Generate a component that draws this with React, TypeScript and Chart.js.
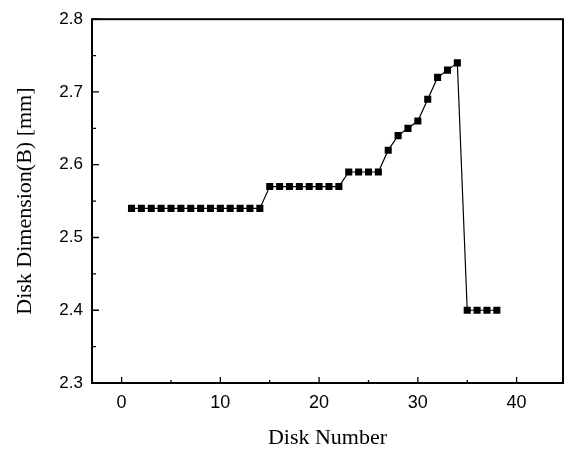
import React, { useEffect, useRef } from "react";
import { Chart, registerables } from "chart.js";

Chart.register(...registerables);

const diskNumbers = [1,2,3,4,5,6,7,8,9,10,11,12,13,14,15,16,17,18,19,20,21,22,23,24,25,26,27,28,29,30,31,32,33,34,35,36,37,38];
const diskDimension = [
  2.54,2.54,2.54,2.54,2.54,2.54,2.54,2.54,2.54,2.54,2.54,2.54,2.54,2.54,
  2.57,2.57,2.57,2.57,2.57,2.57,2.57,2.57,
  2.59,2.59,2.59,2.59,
  2.62,2.64,2.65,2.66,2.69,2.72,2.73,2.74,
  2.40,2.40,2.40,2.40,
];
const xTicks = [0, 10, 20, 30, 40];
const xMinorTicks = [5, 15, 25, 35];
const yTicks = [2.3, 2.4, 2.5, 2.6, 2.7, 2.8];
const yMinorTicks = [2.35, 2.45, 2.55, 2.65, 2.75];

const framePlugin = {
  id: "frame",
  afterDraw(chart: any) {
    const { ctx, chartArea } = chart;
    const { left, right, top, bottom } = chartArea;
    const xs = chart.scales.x;
    const ys = chart.scales.y;
    ctx.save();
    ctx.strokeStyle = "#000";
    ctx.lineWidth = 2;
    ctx.strokeRect(left, top, right - left, bottom - top);
    ctx.lineWidth = 1.3;
    ctx.beginPath();
    xTicks.forEach((v) => {
      const px = xs.getPixelForValue(v);
      ctx.moveTo(px, bottom);
      ctx.lineTo(px, bottom - 6);
    });
    xMinorTicks.forEach((v) => {
      const px = xs.getPixelForValue(v);
      ctx.moveTo(px, bottom);
      ctx.lineTo(px, bottom - 3);
    });
    yTicks.forEach((v) => {
      const py = ys.getPixelForValue(v);
      ctx.moveTo(left, py);
      ctx.lineTo(left + 7, py);
    });
    yMinorTicks.forEach((v) => {
      const py = ys.getPixelForValue(v);
      ctx.moveTo(left, py);
      ctx.lineTo(left + 4, py);
    });
    ctx.stroke();
    ctx.restore();
  },
};

export default function App() {
  const ref = useRef<HTMLCanvasElement>(null);
  useEffect(() => {
    if (!ref.current) return;
    const chart = new Chart(ref.current, {
      type: "line",
      data: {
        datasets: [
          {
            data: diskNumbers.map((x, i) => ({ x, y: diskDimension[i] })),
            borderColor: "#000",
            borderWidth: 1.2,
            backgroundColor: "#000",
            pointStyle: "rect",
            pointRadius: 5,
            pointBorderWidth: 0,
            pointBackgroundColor: "#000",
            tension: 0,
          },
        ],
      },
      plugins: [framePlugin],
      options: {
        animation: false,
        responsive: false,
        devicePixelRatio: 1,
        layout: { padding: { top: 17, right: 1, left: 0, bottom: 0 } },
        plugins: { legend: { display: false }, tooltip: { enabled: false } },
        scales: {
          x: {
            type: "linear",
            min: -3,
            max: 44.7,
            grid: { display: false, drawTicks: false },
            border: { display: false },
            afterBuildTicks: (s: any) => {
              s.ticks = xTicks.map((v) => ({ value: v }));
            },
            afterFit: (s: any) => {
              s.height = 69;
            },
            ticks: {
              color: "#000",
              padding: 9,
              font: { family: "Liberation Sans", size: 18 },
              callback: (v: any) => String(v),
            },
            title: {
              display: true,
              text: "Disk Number",
              color: "#000",
              font: { family: "Liberation Serif", size: 22 },
              padding: { top: 0, bottom: 1 },
            },
          },
          y: {
            type: "linear",
            min: 2.3,
            max: 2.8,
            grid: { display: false, drawTicks: false },
            border: { display: false },
            afterBuildTicks: (s: any) => {
              s.ticks = yTicks.map((v) => ({ value: v }));
            },
            afterFit: (s: any) => {
              s.width = 92;
            },
            ticks: {
              color: "#000",
              padding: 9,
              font: { family: "Liberation Sans", size: 17 },
              callback: (v: any) => Number(v).toFixed(1),
            },
            title: {
              display: true,
              text: "Disk Dimension(B) [mm]",
              color: "#000",
              font: { family: "Liberation Serif", size: 22 },
              padding: { top: 12, bottom: 0 },
            },
          },
        },
      },
    });
    return () => chart.destroy();
  }, []);
  return (
    <div style={{ position: "fixed", left: 0, top: 0, width: 568, height: 452, background: "#fff" }}>
      <canvas ref={ref} width={568} height={452} style={{ width: 568, height: 452 }} />
    </div>
  );
}
